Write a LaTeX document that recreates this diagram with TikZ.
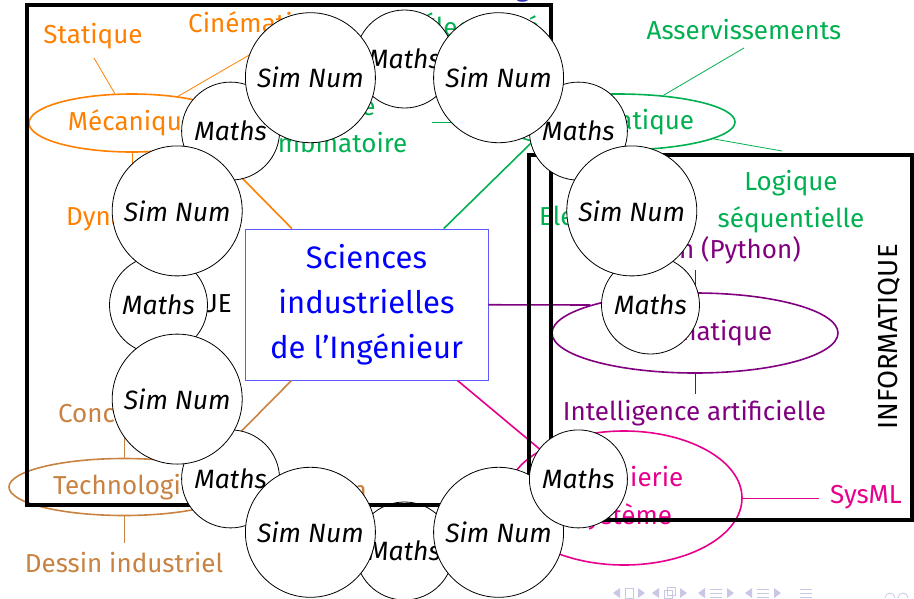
\documentclass[tikz,border=0pt]{standalone}
\usepackage{fontspec}
\setmainfont{Fira Sans}
\usetikzlibrary{shapes.geometric}
\definecolor{cOr}{RGB}{255,128,0}
\definecolor{cGr}{RGB}{0,176,80}
\definecolor{cPu}{RGB}{128,0,128}
\definecolor{cPk}{RGB}{230,0,140}
\definecolor{cBr}{RGB}{200,130,65}
\definecolor{cBl}{RGB}{0,0,255}
\definecolor{cBb}{RGB}{90,90,255}
\definecolor{cTi}{RGB}{51,51,179}
\definecolor{cNav}{RGB}{200,200,228}
\begin{document}
\begin{tikzpicture}[x=1pt,y=-1pt,
  lbl/.style={font=\fontsize{26}{37}\selectfont, inner sep=2pt, align=center},
  ell/.style={ellipse, draw, line width=1.6pt, inner sep=0pt, font=\fontsize{26}{38}\selectfont, align=center},
  sub/.style={line width=0.8pt},
  main/.style={line width=1.6pt},
  bigbox/.style={draw=black, line width=4pt},
  circbase/.style={circle, draw=black, fill=white, line width=0.8pt, inner sep=0pt, font=\fontsize{26.5}{30}\selectfont\itshape},
  maths/.style={circbase, minimum size=98pt},
  simnum/.style={circbase, minimum size=130pt}
]
\useasboundingbox (0,0) rectangle (914,598);

% title (only descenders visible)
\node[anchor=base west, text=cTi, font=\fontsize{27}{33}\selectfont, inner sep=0pt] (title) at (165,-4) {(Maths et Sim Num) en enseignement};

% centre
\node[draw=cBb, line width=0.8pt, text=cBl, minimum width=243pt, minimum height=151pt, align=center, font=\fontsize{31}{45}\selectfont] (sii) at (366.5,304.5) {Sciences\\industrielles\\de l’Ingénieur};

% ellipses
\node[ell, draw=cOr, text=cOr, minimum width=206pt, minimum height=58pt] (meca) at (132,123) {Mécanique};
\node[ell, draw=cGr, text=cGr, minimum width=234pt, minimum height=56pt] (auto) at (618,122) {Automatique};
\node[ell, draw=cPu, text=cPu, minimum width=286pt, minimum height=80pt] (info) at (695,333) {Informatique};
\node[ell, draw=cPk, text=cPk, minimum width=236pt, minimum height=134pt] (ing) at (624,498) {Ingénierie\\système};
\node[ell, draw=cBr, text=cBr, minimum width=230pt, minimum height=57pt] (tech) at (124,487) {Technologie};

% main connectors
\draw[main, cGr] (sii) -- (auto.193);
\draw[main, cOr] (sii) -- (meca.345);
\draw[main, cPu] (sii) -- (info.165);
\draw[main, cPk] (sii) -- (ing.150);
\draw[main, cBr] (sii) -- (tech.14);

% labels
\node[lbl, text=cOr] (stat) at (93,36) {Statique};
\node[lbl, text=cOr, anchor=west] (cine) at (186,25) {Cinématique};
\node[lbl, text=cOr, anchor=west] (dyn) at (64,218) {Dynamique};
\node[lbl, text=cGr] (comb) at (329,124) {Logique\\combinatoire};
\node[lbl, text=cGr, anchor=west] (elec) at (420,25) {Électricité};
\node[lbl, text=cGr] (asse) at (744,30) {Asservissements};
\node[lbl, text=cGr] (seq) at (791,202) {Logique\\séquentielle};
\node[lbl, text=cGr, anchor=west] (elo) at (537,218) {Electronique};
\node[lbl, text=cPu, anchor=east] (pyth) at (803,250) {Notion (Python)};
\node[lbl, text=cPu] (ia) at (694.5,413) {Intelligence artificielle};
\node[lbl, text=cPk] (sysml) at (866,497) {SysML};
\node[lbl, text=cBr, anchor=west] (conc) at (56,415) {Conception};
\node[lbl, text=cBr] (dess) at (124,563) {Dessin industriel};
\node[lbl, text=cBr, anchor=east] (fab) at (369,490) {Fabrication};
\node[lbl, anchor=east] (phys) at (234,305) {PHYSIQUE};
\node[lbl, rotate=90, font=\fontsize{27.5}{33}\selectfont] (infol) at (889,337) {INFORMATIQUE};

% secondary connectors
\coordinate (kStat) at (94,58);
\coordinate (kCine) at (270,43);
\coordinate (kDyn) at (132,172);
\coordinate (kComb) at (432,122);
\coordinate (kAsse) at (744,48);
\coordinate (kSeq) at (782,151);
\coordinate (kPyth) at (695,270);
\coordinate (kIA) at (695,394);
\coordinate (kSys) at (819,498);
\coordinate (kConc) at (124,438);
\coordinate (kDess) at (124,543);
\draw[sub, cOr] (meca) -- (kStat);
\draw[sub, cOr] (meca) -- (kCine);
\draw[sub, cOr] (meca) -- (kDyn);
\draw[sub, cGr] (auto) -- (kComb);
\draw[sub, cGr] (auto) -- (kAsse);
\draw[sub, cGr] (auto) -- (kSeq);
\draw[sub, cPu] (info) -- (kPyth);
\draw[sub, cPu] (info) -- (kIA);
\draw[sub, cPk] (ing) -- (kSys);
\draw[sub, cBr] (tech) -- (kConc);
\draw[sub, cBr] (tech) -- (kDess);

% circle under the frame line
\node[maths] (m270) at (404.5,551) {Maths};

% frames
\draw[bigbox] (27,5) rectangle (551,505);
\draw[bigbox] (529,155) rectangle (912,520);

% circles
\node[maths] (m0) at (650.5,305) {Maths};
\node[maths] (m45) at (578.4,131.1) {Maths};
\node[maths] (m90) at (404.5,59) {Maths};
\node[maths] (m135) at (230.6,131.1) {Maths};
\node[maths] (m180) at (158.5,305) {Maths};
\node[maths] (m225) at (230.6,478.9) {Maths};
\node[simnum] (s1) at (631.8,210.9) {Sim Num};
\node[simnum] (s2) at (498.6,77.7) {Sim Num};
\node[simnum] (s3) at (310.4,77.7) {Sim Num};
\node[simnum] (s4) at (177.2,210.9) {Sim Num};
\node[simnum] (s5) at (177.2,399.1) {Sim Num};
\node[simnum] (s6) at (310.4,532.3) {Sim Num};
\node[simnum] (s7) at (498.6,532.3) {Sim Num};
\node[maths] (m315) at (578.4,478.9) {Maths};

% navigation symbols (cut by the lower edge)
\begin{scope}[cNav]
\fill (620,588) -- (613,593) -- (620,598) -- cycle;
\draw[line width=0.8pt] (625,588) rectangle (633,598);
\fill (638,588) -- (645,593) -- (638,598) -- cycle;
\fill (659,588) -- (652,593) -- (659,598) -- cycle;
\draw[line width=0.8pt] (664,590) rectangle (672,598) (667,587) rectangle (675,595);
\fill (680,588) -- (687,593) -- (680,598) -- cycle;
\fill (705,588) -- (698,593) -- (705,598) -- cycle;
\draw[line width=0.8pt] (710,589) -- (722,589) (710,593) -- (722,593) (710,597) -- (722,597);
\fill (727,588) -- (734,593) -- (727,598) -- cycle;
\fill (752,588) -- (745,593) -- (752,598) -- cycle;
\draw[line width=0.8pt] (757,589) -- (769,589) (757,593) -- (769,593) (757,597) -- (769,597);
\fill (774,588) -- (781,593) -- (774,598) -- cycle;
\draw[line width=0.8pt] (800,589) -- (812,589) (800,593) -- (812,593) (800,597) -- (812,597);
\draw[line width=0.8pt] (885,598) arc[start angle=180, end angle=0, radius=5pt];
\draw[line width=0.8pt] (898,598) arc[start angle=180, end angle=0, radius=5pt];
\end{scope}
\end{tikzpicture}
\end{document}
